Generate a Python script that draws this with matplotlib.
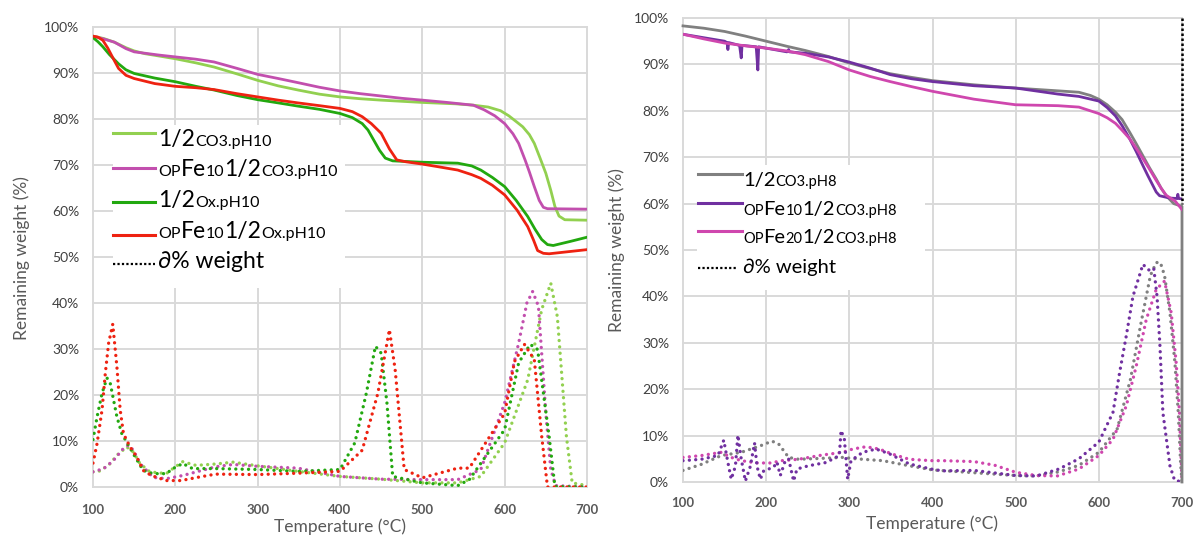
import matplotlib
matplotlib.use('Agg')
import matplotlib.pyplot as plt
from matplotlib.patches import Rectangle
from matplotlib.lines import Line2D

plt.rcParams['font.family'] = ['Lato', 'DejaVu Sans']

# ---------------- data: left panel (pH10) ----------------
T_co3_10 = [100, 113, 126, 140, 150, 163, 180, 200, 225, 247, 275, 300, 325, 349, 375, 400, 425, 450, 500, 540,
            562, 580, 595, 605, 615, 622, 630, 636, 643, 650, 656, 661, 666, 673, 700]
W_co3_10 = [98, 97.5, 96.7, 95.5, 94.8, 94.2, 93.7, 93.1, 92.2, 91.3, 89.8, 88.4, 87.2, 86.3, 85.4, 84.8, 84.4, 84.1,
            83.6, 83.3, 83.0, 82.6, 81.8, 80.7, 79.3, 78.3, 76.6, 74.7, 71.5, 68.2, 64.5, 61, 58.9, 58.1, 58.0]

T_fe_co3_10 = [100, 113, 126, 140, 150, 163, 180, 200, 225, 247, 275, 300, 325, 349, 375, 400, 425, 450, 475, 500,
               530, 562, 575, 588, 600, 610, 617, 625, 630, 636, 642, 647, 652, 700]
W_fe_co3_10 = [98, 97.4, 96.7, 95.3, 94.6, 94.3, 93.9, 93.5, 93.0, 92.4, 91.0, 89.7, 88.8, 87.9, 86.9, 86.1, 85.5,
               85.0, 84.5, 84.1, 83.6, 83.0, 82.0, 80.7, 79, 76.8, 74.7, 71, 68.5, 65.3, 62.3, 60.8, 60.5, 60.4]

T_ox_10 = [100, 106, 112, 120, 131, 140, 150, 175, 200, 225, 247, 275, 300, 325, 349, 375, 400, 415, 427, 434, 441,
           448, 455, 464, 500, 543, 560, 571, 585, 600, 614, 628, 637, 645, 652, 659, 680, 700]
W_ox_10 = [97.7, 96.8, 95.7, 94, 92, 90.7, 89.9, 88.9, 88.1, 87.1, 86.3, 85.1, 84.2, 83.5, 82.8, 82.1, 81.2, 80.3,
           79, 77.6, 75.4, 73.2, 71.5, 70.9, 70.6, 70.4, 69.8, 68.9, 67.3, 65.3, 62.3, 58.8, 56, 53.8, 52.7, 52.5,
           53.4, 54.3]

T_fe_ox_10 = [100, 106, 112, 118, 125, 131, 140, 150, 175, 200, 225, 247, 275, 300, 325, 349, 375, 400, 415, 427,
              438, 450, 460, 469, 480, 500, 520, 543, 560, 571, 585, 600, 615, 628, 635, 640, 647, 654, 700]
W_fe_ox_10 = [98, 97.8, 97.1, 95.4, 93, 91, 89.5, 88.8, 87.7, 87.1, 86.8, 86.4, 85.5, 84.8, 84.1, 83.5, 82.9, 82.3,
              81.6, 80.5, 79, 76.9, 73.5, 71.1, 70.7, 70.2, 69.6, 68.9, 67.9, 67.1, 65.6, 63.5, 60.2, 56.6, 53.7,
              51.4, 50.8, 50.7, 51.6]

dT_fe_ox_10 = [100, 105, 111, 115, 119, 124, 129, 133, 137, 145, 153, 161, 171, 189, 207, 227, 249, 300, 349, 400,
               427, 446, 460, 467, 478, 500, 543, 557, 600, 612, 624, 636, 645, 652, 700]
dW_fe_ox_10 = [5.2, 9.5, 16.8, 24.8, 31.3, 35.4, 26.2, 16.8, 11.6, 8.7, 6.6, 3.6, 2.5, 1.4, 1.4, 2.1, 2.8, 2.7, 3.0, 3.4,
               8, 20.4, 34.2, 25.5, 3.8, 2.0, 4.1, 4.1, 16, 27.3, 31, 27.7, 11, 0, 0]

dT_ox_10 = [100, 105, 111, 117, 121, 125, 129, 135, 143, 151, 161, 173, 189, 197, 209, 221, 249, 300, 349, 400,
            418, 432, 443, 450, 457, 464, 500, 543, 557, 600, 617, 631, 640, 654, 661, 700]
dW_ox_10 = [10.3, 15.3, 20.4, 23.7, 22.5, 18.9, 15.3, 11.6, 9.1, 6.6, 3.6, 2.9, 2.9, 4.0, 5.1, 4.0, 4.0, 3.8, 3.4, 3.8,
            9.6, 20.4, 30.6, 29.1, 18.3, 2.3, 0.9, 0.3, 1.6, 12.5, 27, 31, 29.9, 11, 0.1, 0]

dT_co3_10 = [100, 109, 121, 129, 141, 149, 157, 169, 189, 197, 209, 225, 249, 270, 300, 349, 400, 450, 500, 543,
             571, 600, 628, 645, 656, 664, 675, 682, 700]
dW_co3_10 = [3.3, 3.5, 5.1, 6.9, 8.7, 7.6, 5.1, 3.3, 2.9, 4.0, 5.5, 4.7, 5.0, 5.4, 4.6, 3.4, 2.3, 1.7, 0.9, 0.9,
             2.3, 9.6, 23.3, 38.6, 44.3, 37, 11, 0.9, 0.3]

dT_fe_co3_10 = [100, 113, 125, 137, 143, 149, 157, 173, 189, 209, 249, 270, 300, 349, 400, 450, 500, 543, 571, 600,
                617, 627, 634, 641, 650, 656, 662, 700]
dW_fe_co3_10 = [3.3, 4.0, 5.8, 8.4, 9.1, 8.0, 5.1, 2.1, 1.8, 2.5, 4.4, 4.9, 4.5, 4.1, 2.3, 1.7, 1.6, 1.6, 3.8, 18.3,
                31.3, 40, 42.5, 39.3, 16, 3.8, 0.3, 0]

# ---------------- data: right panel (pH8) ----------------
T_co3_8 = [100, 125, 150, 175, 200, 225, 247, 275, 300, 325, 349, 375, 400, 450, 500, 551, 576, 590, 600, 610, 620,
           628, 637, 645, 653, 661, 669, 675, 681, 690, 700, 700]
W_co3_8 = [98.3, 97.8, 97.1, 96.1, 95, 93.9, 93, 91.7, 90.3, 89.1, 88, 87.2, 86.5, 85.6, 84.9, 84.3, 84.0, 83.3,
           82.5, 81.3, 79.7, 78.1, 75.4, 72.9, 70.3, 67.7, 65.3, 63.3, 61.7, 60, 59.4, 0]

T_fe10_8 = [100, 150, 153, 154, 155, 168, 170, 171, 188, 190, 191, 200, 225, 227, 228, 247, 275, 300, 325, 349, 375,
            400, 450, 500, 551, 576, 600, 610, 620, 628, 637, 645, 653, 659, 665, 669, 673, 685, 694, 695, 696, 700]
W_fe10_8 = [96.5, 95, 94.7, 93.2, 94.7, 94.1, 91.4, 94.1, 93.8, 88.8, 93.8, 93.5, 92.7, 93.2, 92.7, 92.4, 91.6, 90.5,
            89.2, 87.8, 86.9, 86.3, 85.4, 84.9, 83.6, 83.1, 82.1, 80.7, 78.9, 76.8, 74, 71.2, 68.2, 66, 63.9, 62.5,
            61.7, 61.2, 61.1, 62, 61.1, 61]

T_fe20_8 = [100, 125, 150, 175, 200, 225, 247, 275, 300, 325, 349, 375, 400, 450, 500, 551, 576, 600, 610, 620, 628,
            637, 645, 653, 661, 669, 675, 681, 692, 700]
W_fe20_8 = [96.5, 95.5, 94.6, 94.0, 93.5, 92.9, 92.1, 90.6, 88.8, 87.4, 86.3, 85.2, 84.2, 82.5, 81.3, 81.1, 80.8,
            79.4, 78.5, 77.3, 75.8, 74, 71.9, 69.7, 67.4, 65, 63.3, 61.8, 60.5, 58.7]

dT_co3_8 = [100, 122, 146, 170, 193, 207, 215, 227, 239, 267, 292, 308, 340, 372, 400, 450, 500, 525, 552, 576,
            600, 622, 638, 650, 662, 669, 674, 679, 685.5, 691.5, 695.5, 698.5, 700]
dW_co3_8 = [2.5, 3.8, 5.7, 6.4, 7.8, 8.8, 8.2, 5.3, 4.9, 5.1, 5.3, 5.0, 4.6, 3.5, 2.6, 2.0, 1.4, 1.3, 2.2, 3.6,
            6.4, 11.4, 22.1, 33.6, 44.5, 47.3, 47.3, 44.5, 36.5, 25.7, 15, 3.5, 0]

dT_fe10_8 = [100, 122, 142, 149, 154, 158, 163, 166, 170, 175, 181, 186, 189, 193, 197, 203, 209, 213, 217, 223, 227,
             233, 237, 251, 272, 288, 290, 294, 298, 302, 316, 332, 348, 372, 398, 412, 450, 500, 525, 552, 576,
             600, 617, 625, 633, 641, 653, 660, 666, 670, 673.5, 677, 685.5, 691, 700]
dW_fe10_8 = [4.6, 4.9, 5.7, 9, 4.2, 0.6, 3.4, 10.1, 5, 0.2, 3.4, 8.4, 3.4, 0.6, 2.4, 2.8, 3.2, 4.3, 1.4, 4.6, 5,
             0.2, 2.8, 3.5, 4.2, 5.7, 11.1, 9.3, 0.6, 4.6, 6.4, 7.1, 6.1, 3.9, 2.8, 2.4, 2.5, 1.4, 1.3, 2.8, 5,
             8.6, 15, 23.6, 31.5, 40, 46.9, 45.7, 46.1, 40, 29.3, 15, 3.5, 0.4, 0]

dT_fe20_8 = [100, 122, 146, 158, 170, 189, 205, 219, 239, 267, 292, 304, 320, 336, 352, 372, 398, 412, 450, 475,
             500, 525, 550, 576, 600, 617, 633, 645, 657, 669, 679, 687, 693, 697, 700]
dW_fe20_8 = [5.3, 5.7, 6.4, 5.3, 4.6, 4.1, 4.1, 4.6, 4.9, 5.8, 6.4, 7.1, 7.6, 7.1, 6, 4.9, 4.6, 4.6, 4.4, 3.6,
             2.1, 1.4, 1.3, 2.8, 5.7, 9.2, 16.4, 25, 35, 41.5, 43.3, 36.5, 25.7, 15, 0]

T_dw = [700, 700]
W_dw = [100, 60]

x_ticks = [100, 200, 300, 400, 500, 600, 700]
y_ticks = [0, 10, 20, 30, 40, 50, 60, 70, 80, 90, 100]
y_ticklabels = [f"{v}%" for v in y_ticks]

# colors
C_LG = '#92D050'
C_MG = '#C24FAE'
C_GR = '#22A80F'
C_RD = '#EE2211'
C_GY = '#808080'
C_PU = '#7030A0'
C_PK = '#CF47AE'

W, H = 1195, 539
fig = plt.figure(figsize=(W / 100, H / 100), dpi=100)


def fx(px):
    return px / W


def fy(py):
    return 1 - py / H


axL = fig.add_axes([fx(93), fy(487), (587 - 93) / W, (487 - 27) / H])
axR = fig.add_axes([fx(683), fy(482), (1182 - 683) / W, (482 - 18) / H])

for ax, xpad in ((axL, 12), (axR, 11)):
    ax.set_xlim(100, 700)
    ax.set_ylim(0, 100)
    ax.set_xticks(x_ticks)
    ax.set_xticklabels([str(v) for v in x_ticks], fontweight='bold', color='#595959', fontsize=9.5)
    ax.set_yticks(y_ticks)
    ax.set_yticklabels(y_ticklabels, color='#404040', fontsize=10)
    ax.tick_params(length=0, axis='x', pad=xpad)
    ax.tick_params(length=0, axis='y', pad=10)
    for s in ax.spines.values():
        s.set_visible(False)
    ax.grid(True, color='#D9D9D9', lw=1.4)
    for gl in ax.get_xgridlines() + ax.get_ygridlines():
        gl.set_clip_on(False)
    ax.set_axisbelow(True)

lw = 2.0
dot = dict(lw=2.4, ls=(0, (0.01, 1.9)), dash_capstyle='round')

# left panel
axL.plot(dT_co3_10, dW_co3_10, color=C_LG, **dot)
axL.plot(dT_fe_co3_10, dW_fe_co3_10, color=C_MG, **dot)
axL.plot(dT_ox_10, dW_ox_10, color=C_GR, **dot)
axL.plot(dT_fe_ox_10, dW_fe_ox_10, color=C_RD, **dot)
axL.plot(T_co3_10, W_co3_10, color=C_LG, lw=lw)
axL.plot(T_fe_co3_10, W_fe_co3_10, color=C_MG, lw=lw)
axL.plot(T_ox_10, W_ox_10, color=C_GR, lw=lw)
axL.plot(T_fe_ox_10, W_fe_ox_10, color=C_RD, lw=lw)

# right panel
axR.plot(dT_co3_8, dW_co3_8, color=C_GY, **dot)
axR.plot(dT_fe20_8, dW_fe20_8, color=C_PK, **dot)
axR.plot(dT_fe10_8, dW_fe10_8, color=C_PU, **dot)
axR.plot(T_co3_8, W_co3_8, color=C_GY, lw=lw, clip_on=False)
axR.plot(T_fe10_8, W_fe10_8, color=C_PU, lw=lw)
axR.plot(T_fe20_8, W_fe20_8, color=C_PK, lw=lw)
axR.plot(T_dw, W_dw, color='black', lw=1.8, ls=(0, (1, 1)), clip_on=False)

# axis titles
lab = dict(color='#595959', fontsize=12.5)
fig.text(fx(22), fy(258), 'Remaining weight (%)', rotation=90, ha='center', va='center', **lab)
fig.text(fx(617), fy(250), 'Remaining weight (%)', rotation=90, ha='center', va='center', **lab)
fig.text(fx(340), fy(527), 'Temperature (°C)', ha='center', va='center', **lab)
fig.text(fx(932), fy(524), 'Temperature (°C)', ha='center', va='center', **lab)

# custom legends
fig.add_artist(Rectangle((fx(113), fy(288)), (345 - 113) / W, (288 - 125) / H,
                         transform=fig.transFigure, facecolor='white', edgecolor='none', zorder=5))
fig.add_artist(Rectangle((fx(697), fy(290)), (925 - 697) / W, (290 - 165) / H,
                         transform=fig.transFigure, facecolor='white', edgecolor='none', zorder=5))

renderer = fig.canvas.get_renderer()


def mixed(x, y, pieces):
    for s, size in pieces:
        t = fig.text(fx(x), fy(y), s, fontsize=size, ha='left', va='baseline', color='black', zorder=7)
        x += t.get_window_extent(renderer).width


def handle(x0, x1, y, color, dotted=False, lwid=2.2):
    kw = dict(ls=(0, (1, 1)), lw=1.6) if dotted else dict(lw=lwid)
    fig.add_artist(Line2D([fx(x0), fx(x1)], [fy(y), fy(y)], transform=fig.transFigure,
                          color=color, zorder=6, **kw))


L1, S1 = 16.5, 11.5
rowsL = [
    (133, 146, C_LG, False, [("1/2", L1), ("CO3.pH10", S1)]),
    (168, 176, C_MG, False, [("OP", S1), ("Fe", L1), ("10", S1), ("1/2", L1), ("CO3.pH10", S1)]),
    (202, 207, C_GR, False, [("1/2", L1), ("Ox.pH10", S1)]),
    (235, 238, C_RD, False, [("OP", S1), ("Fe", L1), ("10", S1), ("1/2", L1), ("Ox.pH10", S1)]),
    (264, 268, 'black', True, [("∂% weight", L1)]),
]
for hy, by, col, dt, pieces in rowsL:
    handle(113, 155, hy, col, dt)
    mixed(158, by, pieces)

L2, S2 = 14.5, 10.5
rowsR = [
    (174, 186, C_GY, False, [("1/2", L2), ("CO3.pH8", S2)]),
    (203, 215, C_PU, False, [("OP", S2), ("Fe", L2), ("10", S2), ("1/2", L2), ("CO3.pH8", S2)]),
    (231, 243, C_PK, False, [("OP", S2), ("Fe", L2), ("20", S2), ("1/2", L2), ("CO3.pH8", S2)]),
    (268, 273, 'black', True, [("∂% weight", L2)]),
]
for hy, by, col, dt, pieces in rowsR:
    handle(698, 742 if not dt else 737, hy, col, dt)
    mixed(743, by, pieces)

fig.savefig('out.png', dpi=100)
